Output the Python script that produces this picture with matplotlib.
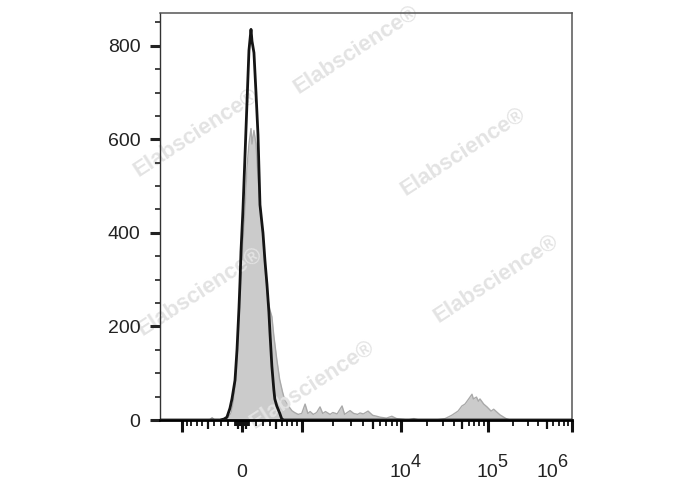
import matplotlib as mpl
mpl.use('Agg')
import matplotlib.pyplot as plt
import numpy as np

plt.rcParams['font.family'] = ['Liberation Sans', 'DejaVu Sans']

# stained sample (black line), fluorescence value -> events
black_x = [-1647, -315, -256, -213, -170, -141, -98, -70, -42, -28, -14, 14, 56, 98, 127,
           141, 169, 198, 227, 256, 285, 300, 330, 360, 390, 406, 436, 467, 483, 515,
           563, 597, 630, 1e6]
black_y = [0, 0, 2, 6, 25, 45, 85, 150, 240, 294, 360, 450, 620, 790, 835,
           810, 785, 700, 610, 460, 420, 400, 340, 290, 230, 187, 115, 65, 45, 30,
           15, 3, 0, 0]

# control (grey filled)
gray_x = [-1647, -547, -467, -436, -405, -345, -256, -198, -155, -127, -98, -70, -42, -14,
          14, 42, 70, 98, 127, 141, 169, 198, 227, 256, 285, 315, 345, 375, 406, 436,
          467, 515, 563, 613, 647, 699, 734, 787, 842, 918, 1000, 1080, 1150, 1210,
          1300, 1400, 1508, 1600, 1700, 1881, 2000, 2200, 2455, 2600, 2943, 3200,
          3500, 3707, 4000, 4476, 5000, 5500, 5978, 7000, 8000, 9000, 10000, 12000,
          14000, 16000, 20000, 25000, 31850, 38000, 45070, 50000, 54300, 60000,
          65600, 68000, 74000, 78000, 81400, 90000, 98400, 110000, 118000, 140000,
          165000, 184000, 1e6]
gray_y = [0, 0, 1, 5, 1, 0, 1, 5, 15, 35, 70, 130, 220, 300,
          380, 450, 540, 590, 623, 590, 619, 590, 520, 460, 420, 360, 300, 257, 235, 221,
          180, 130, 87, 60, 45, 35, 28, 20, 16, 12, 14, 34, 14, 18,
          12, 16, 28, 14, 18, 12, 16, 13, 30, 12, 20, 14,
          12, 15, 13, 19, 10, 8, 6, 4, 8, 3, 2, 0,
          3, 0, 0, 0, 3, 10, 19, 30, 34, 45,
          55, 45, 49, 40, 45, 34, 28, 19, 23, 11,
          3, 0, 0]

# x labels: value, base, exponent
x_labels = [(0, '0', ''), (1e4, '10', '4'), (1e5, '10', '5'), (1e6, '10', '6')]


# logicle (biexponential) scale
def make_logicle(T=1e6, W=0.8, M=4.725, A=0.175):
    w = W / (M + A)
    x2 = A / (M + A)
    x1 = x2 + w
    x0 = x2 + 2 * w
    b = (M + A) * np.log(10)
    lo, hi = 1e-6, b
    for _ in range(200):
        d = (lo + hi) / 2
        if 2 * (np.log(d) - np.log(b)) + w * (b + d) > 0:
            hi = d
        else:
            lo = d
    ca = np.exp(x0 * (b + d))
    mfa = np.exp(b * x1) - ca / np.exp(d * x1)
    a = T / ((np.exp(b) - mfa) - ca / np.exp(d))
    c = ca * a
    f = -mfa * a

    def S(x):
        x = np.asarray(x, float)
        xr = np.where(x >= x1, x, 2 * x1 - x)
        v = a * np.exp(b * xr) - c * np.exp(-d * xr) + f
        return np.where(x >= x1, v, -v)
    return S


S = make_logicle()
grid = np.linspace(-0.05, 1.05, 40001)
vals = S(grid)


def fwd(v):
    return np.interp(np.asarray(v, float), vals, grid)


def inv(x):
    return S(x)


fig = plt.figure(figsize=(6.88, 4.90), dpi=100)
ax = fig.add_axes([160 / 688, 70 / 490, 412 / 688, 407 / 490])
ax.set_xscale('function', functions=(fwd, inv))

ax.fill_between(gray_x, gray_y, color='#cbcbcb', lw=0, zorder=1)
ax.plot(gray_x, gray_y, color='#a9a9a9', lw=1, zorder=1.2)
ax.plot(black_x, black_y, color='#151515', lw=2, zorder=3)

ax.set_xlim(float(S(0.0)), 1e6)
ax.set_ylim(0, 870)

# spines
for s in ['top', 'right']:
    ax.spines[s].set_color('#555555')
    ax.spines[s].set_linewidth(1.1)
ax.spines['left'].set_color('#333333')
ax.spines['left'].set_linewidth(1)
ax.spines['bottom'].set_color('black')
ax.spines['bottom'].set_linewidth(2)

# y ticks
ax.set_yticks([0, 200, 400, 600, 800])
ax.set_yticks([v for v in range(50, 870, 50) if v % 200], minor=True)
ax.tick_params(axis='y', which='major', direction='out', length=7, width=2.2,
               labelsize=14, pad=7, color='#222222', labelcolor='#222222')
ax.tick_params(axis='y', which='minor', direction='out', length=3.6, width=1.2,
               color='#222222')

# x ticks
decades = [-1000, 0, 1000, 1e4, 1e5, 1e6]
medium = [-500, -50, 50, 500, 5000, 5e4, 5e5]
minor = []
for m in [2, 3, 4, 6, 7, 8, 9]:
    minor += [-m * 100, -m * 10, m * 10, m * 100, m * 1e3, m * 1e4, m * 1e5]
minor += [-100, -10, 10, 100]
major_locs = decades + medium
ax.set_xticks(major_locs, labels=[''] * len(major_locs))
ax.set_xticks(sorted(minor), minor=True)
ax.tick_params(axis='x', which='major', direction='out', length=8.6, width=2.2,
               color='#111111')
ax.tick_params(axis='x', which='minor', direction='out', length=4.3, width=1.3,
               color='#111111')
for t, loc in zip(ax.xaxis.get_major_ticks(), major_locs):
    if loc in medium:
        t.tick1line.set_markersize(6.3)
        t.tick1line.set_markeredgewidth(1.6)

# the last label sits pulled in to the left of its tick
xtr = ax.get_xaxis_transform()
for xv, base, sup in x_labels:
    dx = -18 if xv == 1e6 else 0
    ax.annotate(base, xy=(xv, -0.14), xycoords=xtr, xytext=(dx, 0),
                textcoords='offset points', ha='center', va='baseline',
                fontsize=14, color='#222222', annotation_clip=False)
    if sup:
        ax.annotate(sup, xy=(xv, -0.14), xycoords=xtr, xytext=(dx + 7, 7.5),
                    textcoords='offset points', ha='left', va='baseline',
                    fontsize=13, color='#222222', annotation_clip=False)

# watermarks
for cx, cy in [(356, 50), (196, 133), (463, 152), (496, 279), (200, 292), (312, 385)]:
    ax.text(cx / 688, 1 - cy / 490, 'Elabscience\u00ae', transform=fig.transFigure,
            rotation=33, ha='center', va='center', fontsize=16, fontweight='bold',
            color='#e3e3e3', zorder=1.3, rotation_mode='anchor')

fig.savefig('out.png', dpi=100)
